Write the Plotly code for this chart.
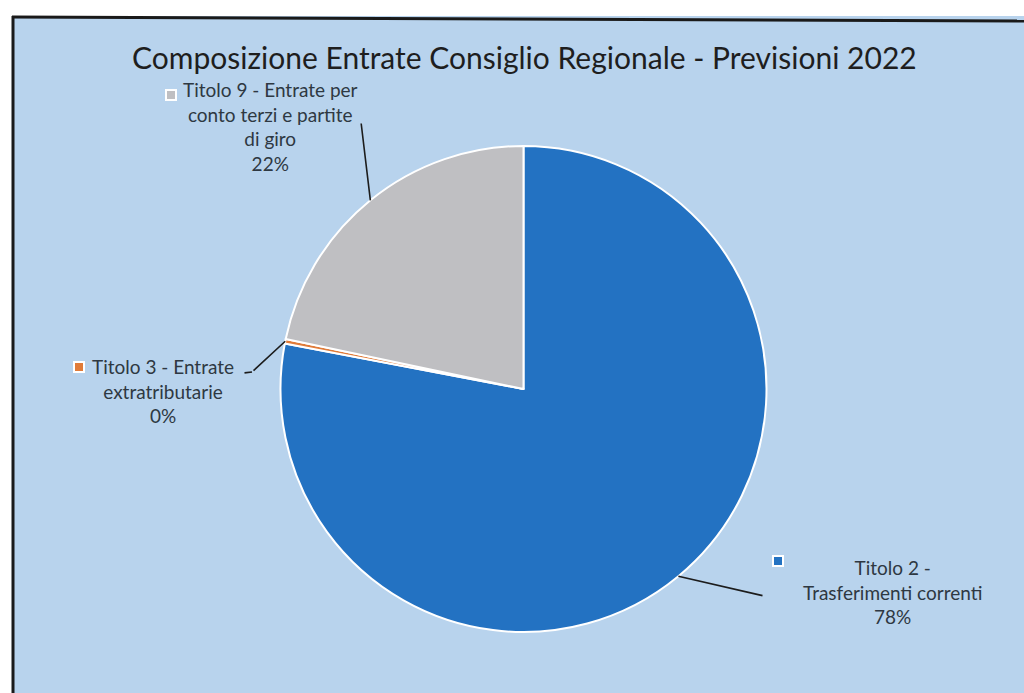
import numpy as np
import plotly.graph_objects as go

# ---- data ----
categories = ["Titolo 2 - Trasferimenti correnti",
              "Titolo 3 - Entrate extratributarie",
              "Titolo 9 - Entrate per conto terzi e partite di giro"]
label_lines = [["Titolo 2 -", "Trasferimenti correnti"],
               ["Titolo 3 - Entrate", "extratributarie"],
               ["Titolo 9 - Entrate per", "conto terzi e partite", "di giro"]]
values = [78.0, 0.3, 21.7]
colors = ["#2372c2", "#e07b39", "#bfbfc2"]
title_text = "Composizione Entrate Consiglio Regionale - Previsioni 2022"

W, H = 1024, 693
BG = "#b8d3ed"
TXT = "#2e3842"
FONT = "Lato"

# pie placement (pixels)
cx, cy, r = 523.5, 389.0, 243.0
dom_x = [(cx - r) / W, (cx + r) / W]
dom_y = [1 - (cy + r) / H, 1 - (cy - r) / H]

fig = go.Figure(go.Pie(
    labels=categories, values=values, sort=False, direction="clockwise",
    rotation=0, textinfo="none", hoverinfo="label+percent",
    marker=dict(colors=colors, line=dict(color="white", width=2)),
    domain=dict(x=dom_x, y=dom_y), showlegend=False,
))

def px(x):
    return x / W

def py(y):
    return 1 - y / H

ann = []
# title
ann.append(dict(text=title_text, x=px(524), y=py(57), xref="paper", yref="paper",
                showarrow=False, font=dict(family=FONT, size=30, color="#1e1e1e"),
                xanchor="center", yanchor="middle"))

total = sum(values)
pcts = [round(v / total * 100) for v in values]
cum = np.cumsum([0] + values[:-1])
mid_ang = [2 * np.pi * (c + v / 2) / total for c, v in zip(cum, values)]
edge = [(cx + r * np.sin(a), cy - r * np.cos(a)) for a in mid_ang]

# label layout: (center x, center y of block, key x, key y, leader end points)
label_pos = [(892, 592, 784, 567, [(764, 596)]),
             (163, 391, 73, 367, [(252, 372), (243, 373)]),
             (270, 127, 165, 89, [(361, 122)])]

for i, (lx, ly, kx, ky, pts) in enumerate(label_pos):
    text = "<br>".join(label_lines[i] + [f"{pcts[i]}%"])
    ann.append(dict(text=text, x=px(lx), y=py(ly), xref="paper", yref="paper",
                    showarrow=False, align="center", xanchor="center", yanchor="middle",
                    font=dict(family=FONT, size=19, color=TXT)))
    # legend key square
    ann.append(dict(text="", x=px(kx), y=py(ky), xref="paper", yref="paper",
                    showarrow=False, width=8, height=8, bgcolor=colors[i],
                    bordercolor="white", borderwidth=2, borderpad=0))
    # leader line(s)
    start = edge[i]
    for p in pts:
        ann.append(dict(text="", x=px(start[0]), y=py(start[1]), xref="paper", yref="paper",
                        showarrow=True, arrowhead=0, arrowwidth=1.6, arrowcolor="#1c1c1c",
                        ax=p[0] - start[0], ay=p[1] - start[1], standoff=0, startstandoff=0))
        start = p

shapes = [
    dict(type="rect", xref="paper", yref="paper", x0=0, x1=1, y0=py(16), y1=1.01,
         fillcolor="white", line=dict(width=0), layer="below"),
    dict(type="rect", xref="paper", yref="paper", x0=-0.01, x1=px(12), y0=-0.01, y1=1.01,
         fillcolor="white", line=dict(width=0), layer="below"),
    dict(type="line", xref="paper", yref="paper", x0=px(12), x1=1.01, y0=py(17), y1=py(21),
         line=dict(color="#1a1a1a", width=3), layer="below"),
    dict(type="line", xref="paper", yref="paper", x0=px(13), x1=px(13), y0=py(16), y1=-0.01,
         line=dict(color="#1a1a1a", width=3), layer="below"),
]

fig.update_layout(
    width=W, height=H, margin=dict(l=0, r=0, t=0, b=0),
    paper_bgcolor=BG, plot_bgcolor=BG,
    annotations=ann, shapes=shapes, showlegend=False,
)

fig.write_html("out.html", config={"displayModeBar": False},
               post_script="document.body.style.margin='0';document.body.style.overflow='hidden';")
